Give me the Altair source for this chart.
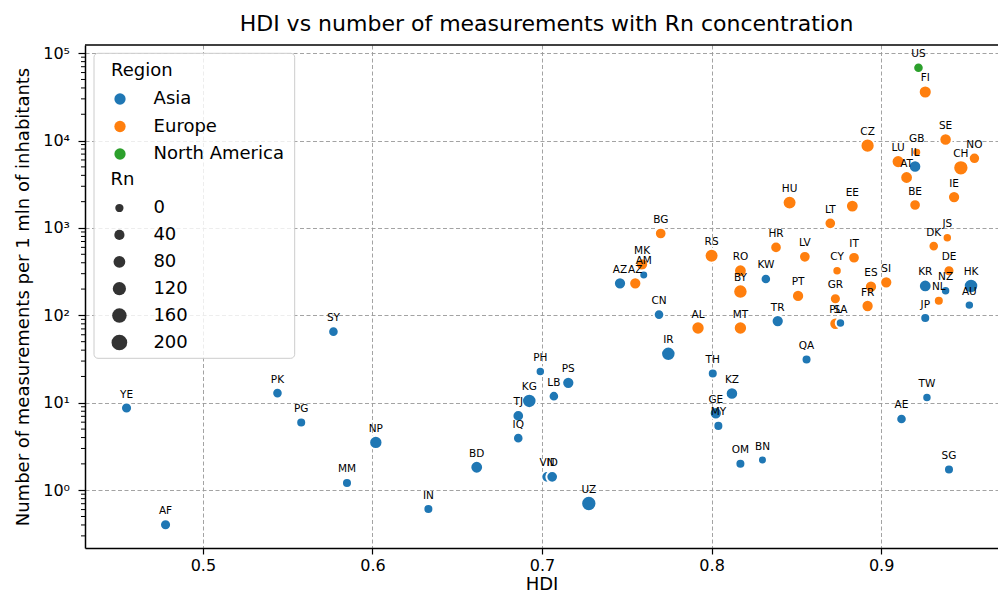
import altair as alt
import pandas as pd

# ---- data ----
codes = ["US", "FI", "CZ", "GB", "SE", "LU", "IL", "AT", "NO", "CH",
         "IE", "BE", "HU", "EE", "LT", "BG", "JS", "DK", "HR", "LV",
         "IT", "RS", "MK", "AM", "AZ", "AZ", "RO", "BY", "KW", "PT",
         "CY", "GR", "ES", "SI", "FR", "PL", "SA", "CN", "AL", "MT",
         "TR", "KR", "DE", "NZ", "NL", "HK", "AU", "JP", "IR", "QA",
         "PH", "PS", "LB", "KG", "TJ", "IQ", "BD", "VN", "ID", "UZ",
         "TH", "KZ", "GE", "MY", "OM", "BN", "SY", "PK", "YE", "PG",
         "NP", "MM", "IN", "AF", "TW", "AE", "SG"]
regions = ["North America", "Europe", "Europe", "Europe", "Europe", "Europe", "Asia", "Europe", "Europe", "Europe",
           "Europe", "Europe", "Europe", "Europe", "Europe", "Europe", "Europe", "Europe", "Europe", "Europe",
           "Europe", "Europe", "Europe", "Asia", "Asia", "Europe", "Europe", "Europe", "Asia", "Europe",
           "Europe", "Europe", "Europe", "Europe", "Europe", "Europe", "Asia", "Asia", "Europe", "Europe",
           "Asia", "Asia", "Europe", "Asia", "Europe", "Asia", "Asia", "Asia", "Asia", "Asia",
           "Asia", "Asia", "Asia", "Asia", "Asia", "Asia", "Asia", "Asia", "Asia", "Asia",
           "Asia", "Asia", "Asia", "Asia", "Asia", "Asia", "Asia", "Asia", "Asia", "Asia",
           "Asia", "Asia", "Asia", "Asia", "Asia", "Asia", "Asia"]
hdi = [0.922, 0.926, 0.892, 0.921, 0.938, 0.910, 0.920, 0.915, 0.955, 0.947,
       0.943, 0.920, 0.846, 0.883, 0.870, 0.770, 0.939, 0.931, 0.838, 0.855,
       0.884, 0.800, 0.759, 0.760, 0.746, 0.755, 0.817, 0.817, 0.832, 0.851,
       0.874, 0.873, 0.894, 0.903, 0.892, 0.873, 0.876, 0.769, 0.792, 0.817,
       0.839, 0.926, 0.940, 0.938, 0.934, 0.953, 0.952, 0.926, 0.7745, 0.856,
       0.699, 0.7155, 0.707, 0.6925, 0.686, 0.686, 0.6615, 0.703, 0.706, 0.7276,
       0.8007, 0.812, 0.8025, 0.804, 0.817, 0.830, 0.577, 0.544, 0.455, 0.558,
       0.602, 0.585, 0.633, 0.478, 0.927, 0.912, 0.940]
measurements = [68100, 36000, 8750, 7340, 10300, 5750, 5050, 3780, 6270, 4880,
                2260, 1830, 1950, 1780, 1130, 865, 771, 620, 599, 468,
                456, 481, 384, 290, 233, 233, 324, 187, 261, 167,
                324, 155, 213, 239, 128, 80.2, 81.7, 102, 71.7, 71.7,
                86.1, 217, 324, 191, 147, 217, 131, 93.2, 36.3, 31.2,
                22.8, 16.9, 11.9, 10.5, 7.07, 3.94, 1.83, 1.42, 1.42, 0.704,
                21.6, 12.8, 7.59, 5.44, 2.01, 2.21, 65.1, 12.9, 8.71, 5.94,
                3.52, 1.21, 0.608, 0.403, 11.5, 6.53, 1.72]
rn = [50, 117, 151, 14, 100, 117, 100, 108, 71, 188,
      93, 77, 143, 108, 77, 77, 24, 50, 77, 77,
      77, 143, 93, 14, 93, 93, 108, 160, 50, 93,
      24, 62, 93, 93, 93, 93, 24, 50, 125, 125,
      93, 108, 62, 24, 37, 160, 24, 37, 160, 37,
      24, 93, 50, 160, 77, 50, 108, 77, 77, 188,
      37, 100, 93, 37, 37, 14, 50, 50, 62, 37,
      125, 37, 37, 62, 24, 50, 37]

region_names = ["Asia", "Europe", "North America"]
region_colors = ["#1f77b4", "#ff7f0e", "#2ca02c"]
rn_legend_values = [0, 40, 80, 120, 160, 200]
x_ticks = [0.5, 0.6, 0.7, 0.8, 0.9]
y_ticks = [1, 10, 100, 1000, 10000, 100000]
y_minor = [0.3, 0.4, 0.5, 0.6, 0.7, 0.8, 0.9,
           2, 3, 4, 5, 6, 7, 8, 9,
           20, 30, 40, 50, 60, 70, 80, 90,
           200, 300, 400, 500, 600, 700, 800, 900,
           2000, 3000, 4000, 5000, 6000, 7000, 8000, 9000,
           20000, 30000, 40000, 50000, 60000, 70000, 80000, 90000]

df = pd.DataFrame({"code": codes, "Region": regions, "HDI": hdi,
                   "Meas": measurements, "Rn": rn})
minor_df = pd.DataFrame({"Meas": y_minor})
one = pd.DataFrame({"k": [0]})

FONT = "DejaVu Sans"
W, H = 913, 503
X_DOMAIN = [0.4305, 0.9689]
Y_DOMAIN = [0.218, 124000]

xscale = alt.Scale(domain=X_DOMAIN, nice=False, zero=False)
yscale = alt.Scale(type="log", domain=Y_DOMAIN, nice=False)

X = alt.X("HDI:Q", scale=xscale,
          axis=alt.Axis(values=x_ticks, format=".1f", title="HDI",
                        tickSize=6, labelPadding=3, titlePadding=2))
Y = alt.Y("Meas:Q", scale=yscale,
          axis=alt.Axis(values=y_ticks,
                        labelExpr="'10' + ['\u2070','\u00b9','\u00b2','\u00b3','\u2074','\u2075'][round(log(datum.value)/LN10)]",
                        title="Number of measurements per 1 mln of inhabitants",
                        labelPadding=8.5, titlePadding=10))

common_legend = dict(orient="none", padding=0, titleFont=FONT, labelFont=FONT,
                     titleFontSize=18, labelFontSize=18, titleFontWeight="normal",
                     titleColor="black", labelColor="black", symbolType="circle",
                     symbolStrokeWidth=0, symbolOpacity=1, titlePadding=10)

points = alt.Chart(df).mark_circle(opacity=1, stroke="white", strokeWidth=2).encode(
    x=X, y=Y,
    color=alt.Color("Region:N",
                    scale=alt.Scale(domain=region_names, range=region_colors),
                    legend=alt.Legend(title="Region", legendX=26, legendY=17,
                                      symbolSize=127, labelOffset=24.6,
                                      rowPadding=9.5, **common_legend)),
    size=alt.Size("Rn:Q", scale=alt.Scale(domain=[0, 200], range=[68, 246], zero=False),
                  legend=alt.Legend(title="Rn", values=rn_legend_values,
                                    legendX=25.4, legendY=126,
                                    symbolFillColor="#333333", labelOffset=25,
                                    rowPadding=8.9, **common_legend)),
)

labels = alt.Chart(df).mark_text(dy=-13.5, fontSize=10.5, font=FONT, color="black").encode(
    x=X, y=Y, text="code:N")

minor = alt.Chart(minor_df).mark_rule(color="black", strokeWidth=1).encode(
    y=Y, x=alt.value(-4), x2=alt.value(0))

legend_box = alt.Chart(one).mark_rect(
    fill="white", fillOpacity=0.8, stroke="#cccccc", strokeWidth=1, cornerRadius=4
).encode(x=alt.value(9), x2=alt.value(209.7), y=alt.value(8.3), y2=alt.value(313.3))

top_spine = alt.Chart(one).mark_rule(color="black", strokeWidth=1.5).encode(
    x=alt.value(0), x2=alt.value(W), y=alt.value(0))

chart = alt.layer(points, labels, minor, legend_box, top_spine).properties(
    width=W, height=H,
    title=alt.Title("HDI vs number of measurements with Rn concentration",
                    font=FONT, fontSize=22, fontWeight="normal", color="black",
                    anchor="middle", offset=8, dx=5),
    padding={"left": 77, "top": 37, "right": 0, "bottom": 47},
    autosize=alt.AutoSizeParams(type="none"),
).configure_view(stroke=None).configure_axis(
    domainColor="black", domainWidth=1.5, tickColor="black", tickSize=7, tickWidth=1.2,
    labelFont=FONT, labelFontSize=16, labelColor="black",
    titleFont=FONT, titleFontSize=18, titleFontWeight="normal", titleColor="black",
    gridColor="#999999", gridDash=[4, 2.5], gridWidth=0.9,
)

chart.save("out.html", embed_options={"renderer": "svg", "actions": False})
